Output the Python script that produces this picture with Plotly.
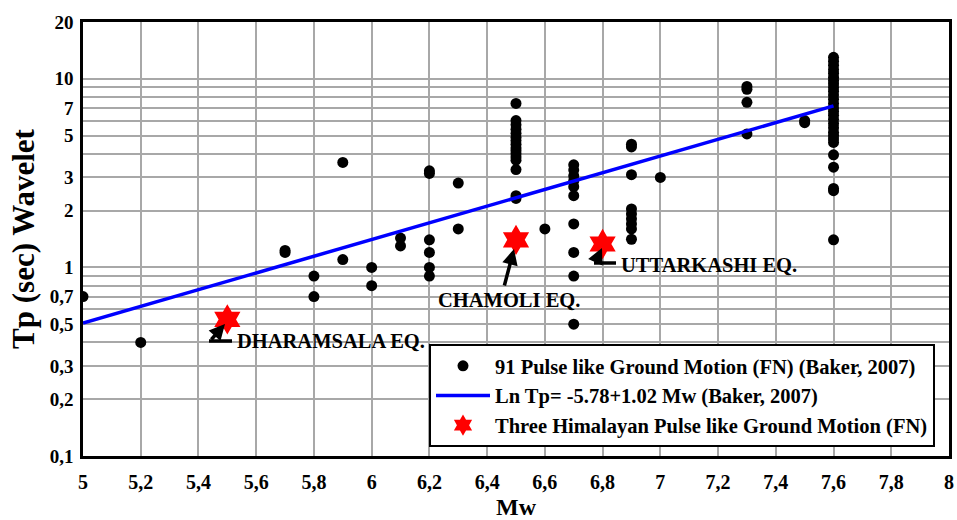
import math
import plotly.graph_objects as go

# ---------------- data ----------------
pulse_mw = [5.0, 5.2, 5.7, 5.7, 5.8, 5.8, 5.9, 5.9, 6.0, 6.0, 6.1, 6.1,
            6.2, 6.2, 6.2, 6.2, 6.2, 6.2, 6.3, 6.3,
            6.5, 6.5, 6.5, 6.5, 6.5, 6.5, 6.5, 6.5, 6.5, 6.5, 6.5, 6.5, 6.5, 6.5, 6.5, 6.5,
            6.6,
            6.7, 6.7, 6.7, 6.7, 6.7, 6.7, 6.7, 6.7, 6.7, 6.7,
            6.9, 6.9, 6.9, 6.9, 6.9, 6.9, 6.9, 6.9, 6.9,
            7.0,
            7.3, 7.3, 7.3, 7.3,
            7.5, 7.5,
            7.6, 7.6, 7.6, 7.6, 7.6, 7.6, 7.6, 7.6, 7.6, 7.6, 7.6, 7.6, 7.6, 7.6,
            7.6, 7.6, 7.6, 7.6, 7.6, 7.6, 7.6, 7.6, 7.6, 7.6, 7.6, 7.6, 7.6, 7.6]
pulse_tp = [0.70, 0.40, 1.20, 1.23, 0.90, 0.70, 3.60, 1.10, 1.00, 0.80, 1.43, 1.30,
            3.25, 3.15, 1.40, 1.20, 1.00, 0.90, 2.80, 1.60,
            7.40, 6.00, 5.70, 5.40, 5.15, 4.90, 4.70, 4.50, 4.30, 4.15, 4.00, 3.85, 3.70, 3.30, 2.40, 2.32,
            1.60,
            3.50, 3.28, 3.06, 2.88, 2.68, 2.40, 1.70, 1.20, 0.90, 0.50,
            4.50, 4.35, 3.10, 2.04, 1.92, 1.81, 1.70, 1.60, 1.41,
            3.00,
            9.10, 8.80, 7.50, 5.10,
            6.00, 5.85,
            13.0, 12.4, 11.8, 11.2, 10.7, 10.2, 9.8, 9.4, 9.0, 8.6, 8.2, 7.8, 7.4, 7.0,
            6.7, 6.4, 6.1, 5.8, 5.5, 5.2, 5.0, 4.8, 4.6, 3.95, 3.40, 2.62, 2.55, 1.40]

baker_mw = [5.0, 7.6]
baker_tp = [0.507, 7.18]

himalayan_names = ["DHARAMSALA EQ.", "CHAMOLI EQ.", "UTTARKASHI EQ."]
himalayan_mw = [5.5, 6.5, 6.8]
himalayan_tp = [0.53, 1.40, 1.33]

x_tickvals = [5.0, 5.2, 5.4, 5.6, 5.8, 6.0, 6.2, 6.4, 6.6, 6.8, 7.0, 7.2, 7.4, 7.6, 7.8, 8.0]
y_tickvals = [0.1, 0.2, 0.3, 0.5, 0.7, 1, 2, 3, 5, 7, 10, 20]
y_ticktext = ["0,1", "0,2", "0,3", "0,5", "0,7", "1", "2", "3", "5", "7", "10", "20"]
y_minorvals = [0.4, 0.6, 0.8, 0.9, 4, 6, 8, 9]

X_MIN, X_MAX = 5.0, 8.0
Y_MIN, Y_MAX = 0.1, 20.0

# ---------------- layout helpers ----------------
W, H = 957, 520
ML, MR, MT, MB = 83, 8, 22, 64
PW, PH = W - ML - MR, H - MT - MB


def px(x):
    return (x - ML) / PW


def py(y):
    return (H - MB - y) / PH


FONT = "Liberation Serif"
GRID = "#a8a8a8"
CLEAR = "rgba(0,0,0,0)"

fig = go.Figure()
fig.add_trace(go.Scatter(
    x=pulse_mw, y=pulse_tp, mode="markers",
    marker=dict(color="black", size=11, line=dict(width=0)),
    name="91 Pulse like Ground Motion (FN) (Baker, 2007)"))
fig.add_trace(go.Scatter(
    x=baker_mw, y=baker_tp, mode="lines",
    line=dict(color="#0000ff", width=3.5),
    name="Ln Tp= -5.78+1.02 Mw (Baker, 2007)"))
fig.add_trace(go.Scatter(
    x=himalayan_mw, y=himalayan_tp, mode="markers",
    marker=dict(color="#ff0000", size=23, symbol="hexagram", line=dict(width=0)),
    name="Three Himalayan Pulse like Ground Motion (FN)"))

fig.update_layout(template="none")

fig.update_xaxes(
    range=[X_MIN, X_MAX], tickmode="array", tickvals=x_tickvals,
    showgrid=True, gridcolor=GRID, gridwidth=1.5,
    showline=True, linecolor="black", linewidth=2.5, mirror=True,
    ticks="outside", ticklen=6, tickcolor=CLEAR, tickwidth=1,
    tickfont=dict(family=FONT, size=20, color="black", weight="bold"),
    title=dict(text="Mw", font=dict(family=FONT, size=24, color="black", weight="bold"),
               standoff=9),
    zeroline=False)
fig.update_yaxes(
    type="log", range=[math.log10(Y_MIN), math.log10(Y_MAX)],
    tickmode="array", tickvals=y_tickvals, ticktext=y_ticktext,
    showgrid=True, gridcolor=GRID, gridwidth=1.5,
    minor=dict(tickmode="array", tickvals=y_minorvals, showgrid=True,
               gridcolor=GRID, gridwidth=1.5, ticks=""),
    showline=True, linecolor="black", linewidth=2.5, mirror=True,
    ticks="outside", ticklen=3, tickcolor=CLEAR, tickwidth=1,
    tickfont=dict(family=FONT, size=19, color="black", weight="bold"),
    title=dict(text="Tp (sec) Wavelet",
               font=dict(family=FONT, size=31, color="black", weight="bold"),
               standoff=6),
    zeroline=False)

ann_font = dict(family=FONT, size=20.5, color="black", weight="bold")
annotations = [
    dict(text=himalayan_names[0], x=px(235), y=py(341), xanchor="left", yanchor="middle"),
    dict(text=himalayan_names[1], x=px(509), y=py(300), xanchor="center", yanchor="middle"),
    dict(text=himalayan_names[2], x=px(619), y=py(265), xanchor="left", yanchor="middle"),
]
arrows = [
    dict(x=px(225), y=py(324), ax=-15, ay=17),
    dict(x=px(514), y=py(249), ax=-10, ay=38),
    dict(x=px(602), y=py(248), ax=-7, ay=15),
]
anns = []
for a in annotations:
    anns.append(dict(xref="paper", yref="paper", showarrow=False, font=ann_font, **a))
for a in arrows:
    anns.append(dict(xref="paper", yref="paper", text="", showarrow=True,
                     arrowhead=2, arrowsize=0.9, arrowwidth=3.5, arrowcolor="black",
                     axref="pixel", ayref="pixel", **a))

shapes = [
    dict(type="line", xref="paper", yref="paper", x0=px(209), x1=px(232),
         y0=py(341), y1=py(341), line=dict(color="black", width=3.5)),
    dict(type="line", xref="paper", yref="paper", x0=px(594), x1=px(616),
         y0=py(263), y1=py(263), line=dict(color="black", width=3.5)),
]

fig.update_layout(
    width=W, height=H,
    margin=dict(l=ML, r=MR, t=MT, b=MB),
    paper_bgcolor="white", plot_bgcolor="white",
    font=dict(family=FONT, color="black", size=18),
    separators=", ",
    showlegend=True,
    legend=dict(x=px(429), y=py(344), xanchor="left", yanchor="top",
                bgcolor="white", bordercolor="black", borderwidth=2,
                font=dict(family=FONT, size=20.5, color="black", weight="bold"),
                itemwidth=54, tracegroupgap=0),
    annotations=anns,
    shapes=shapes,
)

fig.write_html("out.html")
